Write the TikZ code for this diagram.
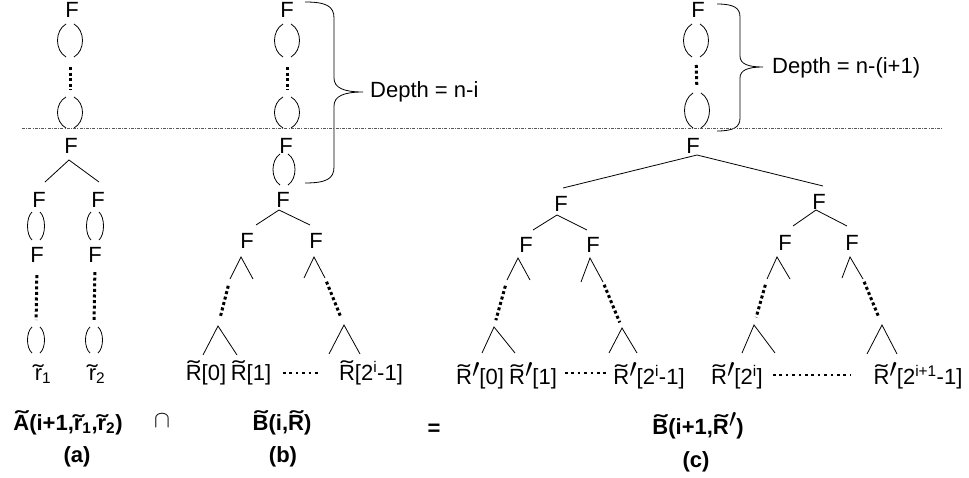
\documentclass[tikz,border=0pt]{standalone}
\usepackage{fontspec}
\setmainfont{Liberation Sans}
\usetikzlibrary{calc}
\newcommand\fs{\fontsize{22pt}{26pt}\selectfont}
% tilde over a capital / a small letter
\newcommand\tlU[1]{\ooalign{#1\cr\hidewidth\raisebox{0.17em}{\scalebox{1.7}[1]{\symbol{"02DC}}}\hidewidth\cr}}
\newcommand\tlL[1]{\ooalign{#1\cr\hidewidth\raisebox{-0.03em}{\scalebox{1.5}[1]{\symbol{"02DC}}}\hidewidth\cr}}
\newcommand\pr{\raisebox{0.28em}{\scalebox{1.3}{$\prime$}}}
% two curved edges between the same pair of levels: name, cx, top, bottom, half width
\newcommand\lensat[5]{%
  \coordinate (#1-t) at (#2,#3);
  \coordinate (#1-b) at (#2,#4);
  \draw[edge] ({#2-4},#3) .. controls ({#2-(#5-1)/0.75},{#3+(#4-#3)*0.2}) and ({#2-(#5-1)/0.75},{#4-(#4-#3)*0.2}) .. ({#2-4},#4);
  \draw[edge] ({#2+4},#3) .. controls ({#2+(#5-1)/0.75},{#3+(#4-#3)*0.2}) and ({#2+(#5-1)/0.75},{#4-(#4-#3)*0.2}) .. ({#2+4},#4);}
% a binary split: name, apex, left end, right end
\newcommand\fork[4]{%
  \coordinate (#1) at #2;
  \coordinate (#1-l) at #3;
  \coordinate (#1-r) at #4;
  \draw[edge] (#1-l) -- (#1) -- (#1-r);}
\begin{document}
\begin{tikzpicture}[x=1pt,y=-1pt,
  every node/.style={inner sep=0pt, font=\fs},
  Fn/.style={text height=15.8pt, text depth=0pt},
  edge/.style={line width=0.8pt},
  vdots/.style={line width=3pt, dash pattern=on 3pt off 2.6pt},
  hdots/.style={line width=2.4pt, dash pattern=on 2.6pt off 3.8pt},
  cut/.style={black!65, line width=0.7pt, dash pattern=on 3pt off 1.2pt on 1pt off 1.2pt},
  brace/.style={line width=0.8pt},
  title/.style={font=\fs\bfseries}]
\useasboundingbox (0,0) rectangle (969,478);

% ---------------- (a) ----------------
\node[Fn] (aF0) at (72,10) {F};
\lensat{aL1}{70}{24}{57}{12.5}
\lensat{aL2}{70}{97}{128}{12.5}
\draw[vdots, shorten <=10pt, shorten >=7pt] (aL1-b) -- (aL2-t);
\node[Fn] (aF1) at (71,146) {F};
\fork{aK}{(69,160)}{(45,182)}{(99,182)}
\node[Fn] (aF2) at (39,200) {F};
\node[Fn] (aF3) at (98,200) {F};
\lensat{aL3}{36}{212}{240}{8.5}
\lensat{aL4}{95}{212}{240}{8.5}
\node[Fn] (aF4) at (37,255) {F};
\node[Fn] (aF5) at (95,255) {F};
\lensat{aL5}{36}{327}{353}{8.5}
\lensat{aL6}{94}{327}{353}{8.5}
\draw[vdots, shorten <=12pt, shorten >=7pt] (aF4.south) -- (aL5-t);
\draw[vdots, shorten <=9pt, shorten >=7pt] (aF5.south) -- (aL6-t);
\node[anchor=base] (r1) at (43,380) {\tlL{r}\textsubscript{1}};
\node[anchor=base] (r2) at (97,380) {\tlL{r}\textsubscript{2}};

% ---------------- (b) ----------------
\node[Fn] (bF0) at (287,10) {F};
\lensat{bL1}{287}{24}{57}{12.5}
\lensat{bL2}{287}{97}{128}{12.5}
\draw[vdots, shorten <=10pt, shorten >=7pt] (bL1-b) -- (bL2-t);
\node[Fn] (bF1) at (286,146) {F};
\lensat{bL3}{284}{154}{185}{11}
\node[Fn] (bF2) at (283,200) {F};
\fork{bK0}{(279,210)}{(256,225)}{(310,225)}
\node[Fn] (bF3) at (247,241) {F};
\node[Fn] (bF4) at (316,241) {F};
\fork{bK1}{(241,257)}{(230,279)}{(253,279)}
\fork{bK2}{(314,257)}{(304,278)}{(325,278)}
\fork{bK3}{(218,326)}{(203,355)}{(237,355)}
\fork{bK4}{(344,325)}{(329,354)}{(360,354)}
\draw[vdots, shorten <=7pt, shorten >=9pt] (bK1-l) -- (bK3);
\draw[vdots, shorten <=4pt, shorten >=8pt] (bK2-r) -- (bK4);
\node[anchor=base] (bR0) at (206,380) {\tlU{R}[0]};
\node[anchor=base] (bR1) at (251,380) {\tlU{R}[1]};
\node[anchor=base] (bR2) at (371,380) {\tlU{R}[2\textsuperscript{i}-1]};
\draw[hdots] (283,373) -- (318,373);
\draw[brace] (305,2) .. controls (326,2) and (334,6) .. (334,18) -- (334,78)
  .. controls (334,88) and (344,92) .. (363,92)
  .. controls (344,92) and (334,96) .. (334,106) -- (334,167)
  .. controls (334,179) and (326,183) .. (305,183);
\node[anchor=base west] (bD) at (370,98) {Depth = n-i};

% ---------------- (c) ----------------
\node[Fn] (cF0) at (698,10) {F};
\lensat{cL1}{696}{24}{57}{12.5}
\lensat{cL2}{697}{93}{128}{12.5}
\draw[vdots, shorten <=8pt, shorten >=6pt] (cL1-b) -- (cL2-t);
\node[Fn] (cF1) at (693,146) {F};
\fork{cK0}{(697,155)}{(563,188)}{(823,186)}
\node[Fn] (cF2) at (561,204) {F};
\node[Fn] (cF3) at (819,202) {F};
\fork{cK1}{(557,215)}{(533,230)}{(587,230)}
\fork{cK2}{(816,210)}{(793,226)}{(847,226)}
\node[Fn] (cF4) at (526,245) {F};
\node[Fn] (cF5) at (593,245) {F};
\node[Fn] (cF6) at (785,243) {F};
\node[Fn] (cF7) at (852,243) {F};
\fork{cK3}{(518,258)}{(507,280)}{(530,280)}
\fork{cK4}{(590,258)}{(581,282)}{(603,282)}
\fork{cK5}{(777,257)}{(767,279)}{(790,279)}
\fork{cK6}{(850,257)}{(842,278)}{(863,279)}
\fork{cK7}{(494,327)}{(482,353)}{(515,353)}
\fork{cK8}{(622,328)}{(609,353)}{(637,353)}
\fork{cK9}{(754,325)}{(742,353)}{(775,353)}
\fork{cK10}{(882,325)}{(867,354)}{(897,354)}
\draw[vdots, shorten <=6pt, shorten >=7pt] (cK3-l) -- (cK7);
\draw[vdots, shorten <=3pt, shorten >=6pt] (cK4-r) -- (cK8);
\draw[vdots, shorten <=6pt, shorten >=8pt] (cK5-l) -- (cK9);
\draw[vdots, shorten <=3pt, shorten >=8pt] (cK6-r) -- (cK10);
\node[anchor=base] (cR0) at (480,384) {\tlU{R}\pr[0]};
\node[anchor=base] (cR1) at (533,384) {\tlU{R}\pr[1]};
\node[anchor=base] (cR2) at (649,384) {\tlU{R}\pr[2\textsuperscript{i}-1]};
\node[anchor=base] (cR3) at (737,384) {\tlU{R}\pr[2\textsuperscript{i}]};
\node[anchor=base] (cR4) at (918,384) {\tlU{R}\pr[2\textsuperscript{i+1}-1]};
\draw[hdots] (565,373) -- (607,373);
\draw[hdots] (773,375) -- (850,375);
\draw[brace] (717,4) .. controls (734,4) and (740,8) .. (740,17) -- (740,56)
  .. controls (740,64) and (748,67) .. (763,67)
  .. controls (748,67) and (740,70) .. (740,78) -- (740,118)
  .. controls (740,127) and (734,131) .. (717,131);
\node[anchor=base west] (cD) at (772,74) {Depth = n-(i+1)};

% level cut
\draw[cut] (22,128) -- (942,128);

% ---------------- captions ----------------
\node[title, anchor=base] (tA) at (68,430) {\tlU{A}(i+1,\tlL{r}\textsubscript{1},\tlL{r}\textsubscript{2})};
\node (cap) at (162,421) {\scalebox{1.15}{$\cap$}};
\node[title, anchor=base] (tB) at (282,430) {\tlU{B}(i,\tlU{R})};
\node[title] (eq) at (434,430) {=};
\node[title, anchor=base] (tC) at (698,434) {\tlU{B}(i+1,\tlU{R}\pr)};
\node[title, anchor=base] (ca) at (77,462) {(a)};
\node[title, anchor=base] (cb) at (283,462) {(b)};
\node[title, anchor=base] (cc) at (696,467) {(c)};
\end{tikzpicture}
\end{document}
